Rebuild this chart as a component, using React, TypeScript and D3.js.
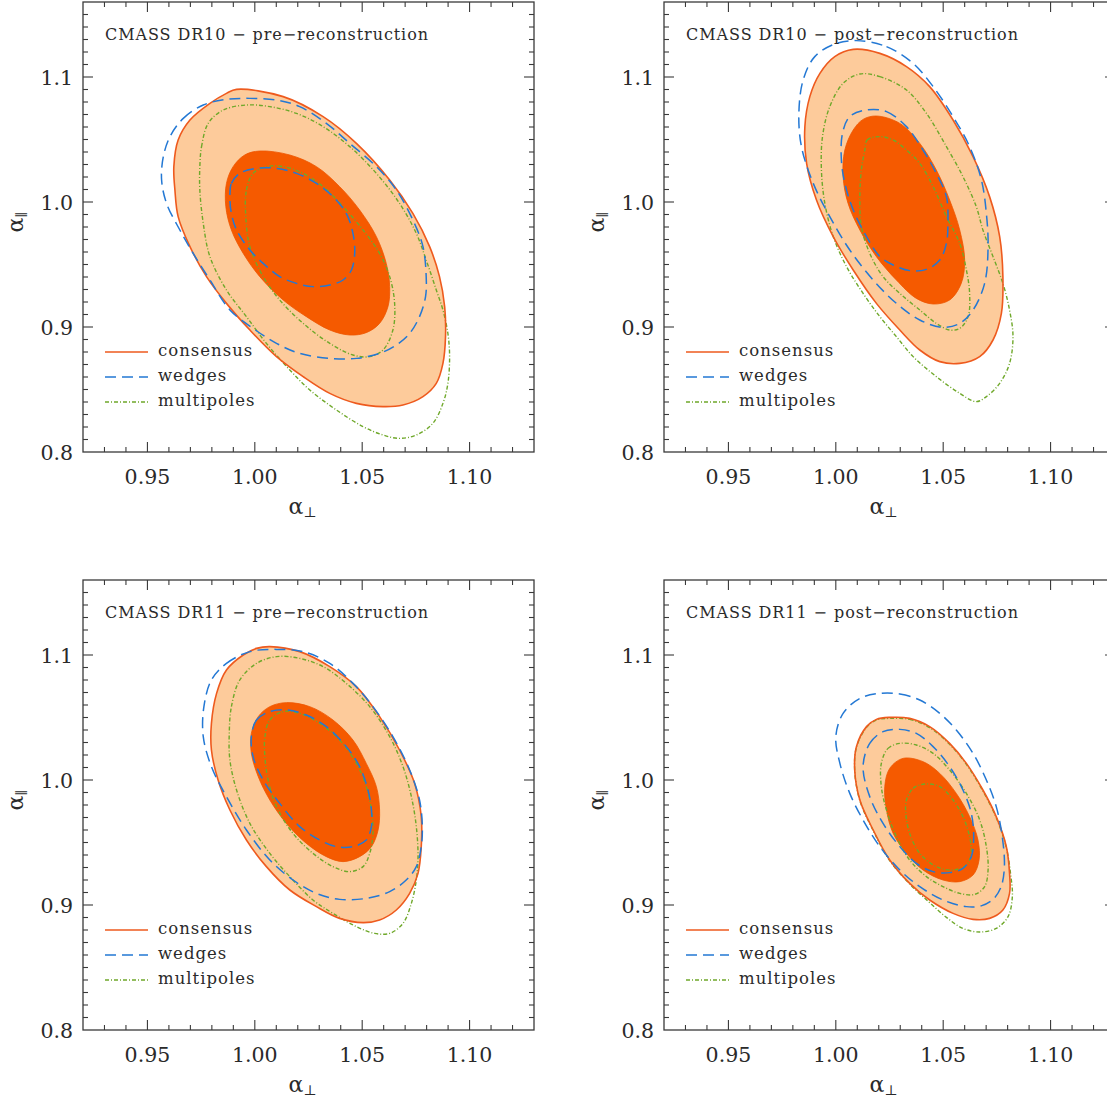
import React from "react";
import * as d3 from "d3";

type P = [number, number];

// ---------- data (alpha_perp, alpha_par) contour points ----------
const xTicks = [0.95, 1.0, 1.05, 1.1];
const yTicks = [0.8, 0.9, 1.0, 1.1];
const legendLabels = ["consensus", "wedges", "multipoles"];
const panelTitles = [
  "CMASS DR10 \u2212 pre\u2212reconstruction",
  "CMASS DR10 \u2212 post\u2212reconstruction",
  "CMASS DR11 \u2212 pre\u2212reconstruction",
  "CMASS DR11 \u2212 post\u2212reconstruction",
];

// DR10 pre
const dr10PreCons2: P[] = [[0.9915,1.0901],[1.0132,1.0843],[1.0318,1.0683],[1.0473,1.0469],[1.0628,1.0176],[1.0736,0.9909],[1.0814,0.9643],[1.0860,0.9403],[1.0884,0.9163],[1.0888,0.8923],[1.0876,0.8709],[1.0845,0.8549],[1.0783,0.8443],[1.0690,0.8376],[1.0597,0.8363],[1.0473,0.8389],[1.0349,0.8469],[1.0225,0.8603],[1.0101,0.8763],[0.9977,0.8976],[0.9868,0.9189],[0.9775,0.9403],[0.9698,0.9643],[0.9643,0.9883],[0.9628,1.0096],[0.9623,1.0283],[0.9643,1.0496],[0.9698,1.0656],[0.9791,1.0789],[0.9868,1.0869]];
const dr10PreCons1: P[] = [[1.0023,1.0408],[1.0163,1.0376],[1.0287,1.0283],[1.0395,1.0123],[1.0488,0.9936],[1.0566,0.9723],[1.0612,0.9509],[1.0628,0.9323],[1.0620,0.9163],[1.0581,0.9029],[1.0519,0.8955],[1.0442,0.8936],[1.0349,0.8976],[1.0240,0.9083],[1.0132,0.9216],[1.0023,0.9403],[0.9946,0.9589],[0.9891,0.9776],[0.9865,0.9963],[0.9868,1.0149],[0.9899,1.0283],[0.9953,1.0376]];
const dr10PreWedges2: P[] = [[0.9605,1.0523],[0.9667,1.0669],[0.9760,1.0776],[0.9868,1.0821],[0.9977,1.0829],[1.0101,1.0816],[1.0209,1.0763],[1.0333,1.0629],[1.0442,1.0469],[1.0566,1.0283],[1.0659,1.0096],[1.0736,0.9856],[1.0783,0.9643],[1.0798,0.9403],[1.0795,0.9243],[1.0767,0.9083],[1.0721,0.8949],[1.0659,0.8856],[1.0581,0.8789],[1.0473,0.8749],[1.0349,0.8749],[1.0209,0.8789],[1.0101,0.8869],[0.9992,0.8989],[0.9884,0.9136],[0.9791,0.9376],[0.9713,0.9589],[0.9651,0.9776],[0.9589,0.9989],[0.9566,1.0176],[0.9574,1.0363]];
const dr10PreWedges1: P[] = [[0.9884,1.0043],[0.9891,1.0149],[0.9930,1.0229],[1.0008,1.0269],[1.0101,1.0269],[1.0194,1.0229],[1.0287,1.0149],[1.0364,1.0043],[1.0426,0.9909],[1.0457,0.9749],[1.0465,0.9589],[1.0450,0.9456],[1.0411,0.9376],[1.0349,0.9336],[1.0271,0.9323],[1.0194,0.9349],[1.0116,0.9403],[1.0039,0.9509],[0.9977,0.9616],[0.9915,0.9776],[0.9891,0.9909]];
const dr10PreMulti2: P[] = [[0.9744,1.0283],[0.9752,1.0443],[0.9783,1.0629],[0.9853,1.0736],[0.9961,1.0776],[1.0070,1.0763],[1.0194,1.0709],[1.0318,1.0603],[1.0442,1.0443],[1.0566,1.0229],[1.0674,0.9989],[1.0752,0.9749],[1.0798,0.9536],[1.0845,0.9296],[1.0876,0.9136],[1.0899,0.8949],[1.0907,0.8763],[1.0899,0.8549],[1.0876,0.8389],[1.0829,0.8229],[1.0752,0.8136],[1.0674,0.8109],[1.0597,0.8136],[1.0504,0.8203],[1.0380,0.8336],[1.0256,0.8496],[1.0163,0.8656],[1.0054,0.8869],[0.9961,0.9083],[0.9868,0.9296],[0.9791,0.9563],[0.9760,0.9829],[0.9744,1.0096]];
const dr10PreMulti1: P[] = [[0.9958,0.9883],[0.9961,1.0096],[0.9992,1.0229],[1.0054,1.0283],[1.0132,1.0283],[1.0225,1.0229],[1.0318,1.0123],[1.0411,0.9963],[1.0504,0.9776],[1.0581,0.9589],[1.0628,0.9403],[1.0651,0.9189],[1.0643,0.8976],[1.0597,0.8816],[1.0535,0.8763],[1.0457,0.8776],[1.0349,0.8869],[1.0225,0.9029],[1.0116,0.9216],[1.0039,0.9403],[0.9977,0.9643]];

// DR10 post
const dr10PostCons2: P[] = [[1.0081,1.1221],[1.0205,1.1189],[1.0329,1.1083],[1.0437,1.0923],[1.0546,1.0656],[1.0639,1.0363],[1.0716,1.0043],[1.0763,0.9723],[1.0778,0.9403],[1.0771,0.9109],[1.0732,0.8896],[1.0670,0.8763],[1.0577,0.8709],[1.0484,0.8723],[1.0391,0.8816],[1.0298,0.8976],[1.0189,0.9189],[1.0081,0.9456],[0.9988,0.9723],[0.9910,1.0016],[0.9864,1.0309],[0.9856,1.0603],[0.9879,1.0843],[0.9926,1.1029],[0.9995,1.1163]];
const dr10PostCons1: P[] = [[1.0189,1.0688],[1.0298,1.0629],[1.0391,1.0469],[1.0468,1.0256],[1.0530,1.0016],[1.0577,0.9776],[1.0600,0.9536],[1.0584,0.9349],[1.0530,0.9216],[1.0453,0.9184],[1.0375,0.9229],[1.0282,0.9376],[1.0189,0.9563],[1.0112,0.9776],[1.0057,0.9989],[1.0034,1.0203],[1.0042,1.0416],[1.0081,1.0576],[1.0127,1.0661]];
const dr10PostWedges2: P[] = [[1.0096,1.1291],[1.0236,1.1243],[1.0360,1.1109],[1.0453,1.0923],[1.0546,1.0683],[1.0623,1.0443],[1.0678,1.0176],[1.0701,0.9909],[1.0709,0.9643],[1.0693,0.9349],[1.0639,0.9136],[1.0577,0.9029],[1.0499,0.8997],[1.0391,0.9056],[1.0282,0.9189],[1.0174,0.9376],[1.0065,0.9616],[0.9972,0.9883],[0.9895,1.0149],[0.9840,1.0443],[0.9828,1.0709],[0.9848,1.0976],[0.9902,1.1163],[0.9995,1.1264]];
const dr10PostWedges1: P[] = [[1.0143,1.0736],[1.0236,1.0723],[1.0329,1.0603],[1.0406,1.0416],[1.0468,1.0229],[1.0515,1.0043],[1.0522,0.9829],[1.0515,0.9669],[1.0484,0.9536],[1.0422,0.9461],[1.0344,0.9451],[1.0267,0.9496],[1.0205,0.9563],[1.0143,0.9723],[1.0081,0.9936],[1.0042,1.0149],[1.0026,1.0336],[1.0031,1.0549],[1.0065,1.0683]];
const dr10PostMulti2: P[] = [[1.0112,1.1024],[1.0205,1.1003],[1.0329,1.0896],[1.0422,1.0709],[1.0515,1.0443],[1.0592,1.0203],[1.0654,0.9963],[1.0685,0.9776],[1.0732,0.9563],[1.0778,0.9349],[1.0809,0.9136],[1.0825,0.8923],[1.0809,0.8709],[1.0763,0.8549],[1.0701,0.8443],[1.0654,0.8403],[1.0577,0.8469],[1.0468,0.8603],[1.0360,0.8763],[1.0282,0.8923],[1.0205,0.9083],[1.0127,0.9269],[1.0050,0.9483],[0.9988,0.9723],[0.9949,0.9989],[0.9933,1.0256],[0.9938,1.0523],[0.9972,1.0763],[1.0034,1.0949]];
const dr10PostMulti1: P[] = [[1.0135,1.0416],[1.0146,1.0496],[1.0205,1.0523],[1.0267,1.0496],[1.0329,1.0416],[1.0391,1.0309],[1.0453,1.0123],[1.0515,0.9883],[1.0577,0.9669],[1.0608,0.9456],[1.0623,0.9269],[1.0616,0.9083],[1.0577,0.8989],[1.0530,0.8976],[1.0468,0.9029],[1.0391,0.9136],[1.0298,0.9269],[1.0220,0.9403],[1.0158,0.9589],[1.0119,0.9803],[1.0112,1.0043],[1.0119,1.0256]];

// DR11 pre
const dr11PreCons2: P[] = [[1.0070,1.1067],[1.0209,1.1027],[1.0349,1.0907],[1.0473,1.0747],[1.0581,1.0507],[1.0674,1.0240],[1.0744,0.9973],[1.0775,0.9707],[1.0775,0.9467],[1.0760,0.9253],[1.0721,0.9093],[1.0659,0.8960],[1.0581,0.8880],[1.0504,0.8859],[1.0395,0.8893],[1.0287,0.8987],[1.0163,0.9120],[1.0054,0.9307],[0.9961,0.9520],[0.9884,0.9760],[0.9829,1.0000],[0.9798,1.0240],[0.9798,1.0453],[0.9822,1.0693],[0.9868,1.0880],[0.9946,1.1000],[1.0008,1.1053]];
const dr11PreCons1: P[] = [[1.0147,1.0619],[1.0256,1.0587],[1.0364,1.0480],[1.0457,1.0320],[1.0519,1.0133],[1.0566,0.9947],[1.0581,0.9760],[1.0574,0.9600],[1.0543,0.9467],[1.0488,0.9387],[1.0411,0.9347],[1.0333,0.9387],[1.0240,0.9493],[1.0147,0.9653],[1.0070,0.9840],[1.0016,1.0027],[0.9984,1.0213],[0.9984,1.0373],[1.0016,1.0507],[1.0070,1.0587]];
const dr11PreWedges2: P[] = [[0.9798,1.0800],[0.9868,1.0933],[0.9977,1.1027],[1.0101,1.1045],[1.0225,1.1027],[1.0349,1.0933],[1.0457,1.0773],[1.0550,1.0587],[1.0643,1.0347],[1.0721,1.0080],[1.0767,0.9840],[1.0780,0.9627],[1.0775,0.9467],[1.0752,0.9307],[1.0705,0.9200],[1.0628,0.9107],[1.0519,0.9053],[1.0395,0.9045],[1.0287,0.9093],[1.0178,0.9200],[1.0070,0.9360],[0.9961,0.9600],[0.9868,0.9867],[0.9798,1.0107],[0.9760,1.0347],[0.9763,1.0587]];
const dr11PreWedges1: P[] = [[0.9984,1.0347],[1.0008,1.0480],[1.0070,1.0547],[1.0147,1.0560],[1.0240,1.0520],[1.0333,1.0427],[1.0426,1.0267],[1.0488,1.0107],[1.0527,0.9920],[1.0543,0.9760],[1.0543,0.9627],[1.0519,0.9520],[1.0457,0.9467],[1.0380,0.9467],[1.0302,0.9520],[1.0209,0.9627],[1.0116,0.9813],[1.0039,1.0000],[0.9992,1.0187]];
const dr11PreMulti2: P[] = [[0.9881,1.0373],[0.9891,1.0587],[0.9930,1.0800],[1.0008,1.0933],[1.0101,1.0987],[1.0209,1.0973],[1.0318,1.0907],[1.0426,1.0773],[1.0535,1.0587],[1.0628,1.0347],[1.0690,1.0107],[1.0729,0.9867],[1.0752,0.9627],[1.0760,0.9387],[1.0752,0.9200],[1.0729,0.9013],[1.0690,0.8853],[1.0628,0.8773],[1.0558,0.8773],[1.0473,0.8827],[1.0364,0.8933],[1.0271,0.9040],[1.0163,0.9227],[1.0070,0.9413],[0.9977,0.9653],[0.9915,0.9920],[0.9884,1.0160]];
const dr11PreMulti1: P[] = [[1.0047,1.0347],[1.0070,1.0480],[1.0132,1.0547],[1.0209,1.0533],[1.0302,1.0453],[1.0395,1.0320],[1.0473,1.0133],[1.0519,0.9947],[1.0543,0.9760],[1.0550,0.9573],[1.0535,0.9413],[1.0504,0.9307],[1.0442,0.9267],[1.0364,0.9307],[1.0271,0.9413],[1.0178,0.9573],[1.0101,0.9787],[1.0062,1.0000],[1.0047,1.0187]];

// DR11 post
const dr11PostCons2: P[] = [[1.0251,1.0501],[1.0344,1.0493],[1.0437,1.0427],[1.0530,1.0293],[1.0608,1.0133],[1.0685,0.9920],[1.0747,0.9707],[1.0794,0.9467],[1.0809,0.9253],[1.0809,0.9093],[1.0778,0.8960],[1.0716,0.8893],[1.0639,0.8885],[1.0546,0.8933],[1.0437,0.9040],[1.0344,0.9173],[1.0251,0.9360],[1.0174,0.9600],[1.0112,0.9840],[1.0088,1.0080],[1.0096,1.0267],[1.0143,1.0427],[1.0189,1.0485]];
const dr11PostCons1: P[] = [[1.0313,1.0173],[1.0406,1.0147],[1.0484,1.0053],[1.0561,0.9893],[1.0623,0.9707],[1.0662,0.9520],[1.0667,0.9360],[1.0639,0.9240],[1.0577,0.9187],[1.0499,0.9200],[1.0406,0.9280],[1.0329,0.9413],[1.0267,0.9573],[1.0236,0.9760],[1.0228,0.9947],[1.0251,1.0093]];
const dr11PostWedges2: P[] = [[1.0205,1.0693],[1.0298,1.0688],[1.0391,1.0640],[1.0484,1.0533],[1.0561,1.0400],[1.0639,1.0213],[1.0701,1.0000],[1.0747,0.9787],[1.0775,0.9547],[1.0785,0.9307],[1.0770,0.9147],[1.0735,0.9050],[1.0680,0.8995],[1.0608,0.8987],[1.0499,0.9040],[1.0391,0.9147],[1.0298,0.9280],[1.0205,0.9467],[1.0127,0.9680],[1.0065,0.9893],[1.0019,1.0133],[1.0000,1.0347],[1.0034,1.0533],[1.0112,1.0653]];
const dr11PostWedges1: P[] = [[1.0127,1.0107],[1.0158,1.0293],[1.0220,1.0387],[1.0298,1.0405],[1.0375,1.0373],[1.0453,1.0267],[1.0530,1.0107],[1.0592,0.9920],[1.0631,0.9733],[1.0642,0.9547],[1.0631,0.9387],[1.0592,0.9293],[1.0530,0.9259],[1.0453,0.9267],[1.0375,0.9333],[1.0298,0.9467],[1.0220,0.9653],[1.0158,0.9867]];
const dr11PostMulti3: P[] = [[1.0251,1.0493],[1.0344,1.0485],[1.0437,1.0419],[1.0530,1.0285],[1.0608,1.0125],[1.0685,0.9912],[1.0747,0.9699],[1.0794,0.9459],[1.0814,0.9245],[1.0822,0.9067],[1.0802,0.8907],[1.0747,0.8813],[1.0670,0.8784],[1.0592,0.8813],[1.0515,0.8901],[1.0437,0.9019],[1.0344,0.9168],[1.0251,0.9355],[1.0174,0.9595],[1.0112,0.9835],[1.0088,1.0075],[1.0096,1.0261],[1.0143,1.0421],[1.0189,1.0480]];
const dr11PostMulti2: P[] = [[1.0212,1.0133],[1.0243,1.0253],[1.0298,1.0293],[1.0375,1.0280],[1.0453,1.0213],[1.0530,1.0080],[1.0608,0.9893],[1.0670,0.9680],[1.0701,0.9467],[1.0709,0.9280],[1.0693,0.9147],[1.0647,0.9085],[1.0577,0.9093],[1.0499,0.9147],[1.0422,0.9227],[1.0344,0.9360],[1.0282,0.9547],[1.0236,0.9760],[1.0212,0.9947]];
const dr11PostMulti1: P[] = [[1.0329,0.9840],[1.0360,0.9933],[1.0414,0.9968],[1.0484,0.9947],[1.0546,0.9840],[1.0592,0.9707],[1.0623,0.9547],[1.0631,0.9413],[1.0608,0.9320],[1.0546,0.9280],[1.0468,0.9307],[1.0391,0.9413],[1.0344,0.9573],[1.0326,0.9733]];

// ---------- layout & style ----------
const W = 1107;
const H = 1101;
const PW = 451;
const PH = 450;
const xDomain: [number, number] = [0.92, 1.13];
const yDomain: [number, number] = [0.8, 1.16];

const C_DARK = "#F55A00";
const C_LIGHT = "#FDCB9B";
const C_LINE = "#EE5A1E";
const C_BLUE = "#2378D4";
const C_GREEN = "#6FA82A";
const AXIS = "#3a3a3a";
const TEXT = "#2a2a2a";
const FONT = "'DejaVu Serif', serif";

type Panel = {
  title: string;
  titleLen: number;
  left: number;
  top: number;
  cons2: P[];
  cons1: P[];
  wedges: P[][];
  multi: P[][];
};

const panels: Panel[] = [
  { title: panelTitles[0], titleLen: 323, left: 83, top: 2, cons2: dr10PreCons2, cons1: dr10PreCons1, wedges: [dr10PreWedges2, dr10PreWedges1], multi: [dr10PreMulti2, dr10PreMulti1] },
  { title: panelTitles[1], titleLen: 332, left: 664, top: 2, cons2: dr10PostCons2, cons1: dr10PostCons1, wedges: [dr10PostWedges2, dr10PostWedges1], multi: [dr10PostMulti2, dr10PostMulti1] },
  { title: panelTitles[2], titleLen: 323, left: 83, top: 580, cons2: dr11PreCons2, cons1: dr11PreCons1, wedges: [dr11PreWedges2, dr11PreWedges1], multi: [dr11PreMulti2, dr11PreMulti1] },
  { title: panelTitles[3], titleLen: 332, left: 664, top: 580, cons2: dr11PostCons2, cons1: dr11PostCons1, wedges: [dr11PostWedges2, dr11PostWedges1], multi: [dr11PostMulti3, dr11PostMulti2, dr11PostMulti1] },
];

const xMinor = d3.range(93, 113).map((v) => v / 100);
const yMinor = d3.range(81, 116).map((v) => v / 100);

function PanelView({ p }: { p: Panel }) {
  const xs = d3.scaleLinear().domain(xDomain).range([p.left, p.left + PW]);
  const ys = d3.scaleLinear().domain(yDomain).range([p.top + PH, p.top]);
  const line = d3
    .line<P>()
    .x((d) => xs(d[0]))
    .y((d) => ys(d[1]))
    .curve(d3.curveCatmullRomClosed.alpha(0.5));
  const L = p.left;
  const R = p.left + PW;
  const T = p.top;
  const B = p.top + PH;
  const isMajorX = (v: number) => xTicks.some((t) => Math.abs(t - v) < 1e-6);
  const isMajorY = (v: number) => yTicks.some((t) => Math.abs(t - v) < 1e-6);
  const legendY = [T + 350, T + 375, T + 400];
  const legendStyles = [
    { stroke: C_LINE, dash: undefined, w: 1.6 },
    { stroke: C_BLUE, dash: "11,6", w: 1.5 },
    { stroke: C_GREEN, dash: "4,2,1,2", w: 1.4 },
  ];
  const cons2Path = line(p.cons2) || "";
  return (
    <g>
      <path d={cons2Path} fill={C_LIGHT} stroke="none" />
      <path d={line(p.cons1) || ""} fill={C_DARK} stroke="#EE5500" strokeWidth={0.8} />
      {p.multi.map((c, i) => (
        <path key={"m" + i} d={line(c) || ""} fill="none" stroke={C_GREEN} strokeWidth={1.4} strokeDasharray="4,2,1,2" />
      ))}
      <path d={cons2Path} fill="none" stroke={C_LINE} strokeWidth={1.6} />
      {p.wedges.map((c, i) => (
        <path key={"w" + i} d={line(c) || ""} fill="none" stroke={C_BLUE} strokeWidth={1.5} strokeDasharray="11,6" />
      ))}
      {/* frame */}
      <rect x={L} y={T} width={PW} height={PH} fill="none" stroke={AXIS} strokeWidth={1.3} />
      {/* ticks */}
      {xMinor.map((v) => {
        const len = isMajorX(v) ? 10 : 5;
        const x = xs(v);
        return (
          <g key={"xt" + v}>
            <line x1={x} x2={x} y1={B} y2={B - len} stroke={AXIS} strokeWidth={1.1} />
            <line x1={x} x2={x} y1={T} y2={T + len} stroke={AXIS} strokeWidth={1.1} />
          </g>
        );
      })}
      {yMinor.map((v) => {
        const len = isMajorY(v) ? 10 : 5;
        const y = ys(v);
        return (
          <g key={"yt" + v}>
            <line x1={L} x2={L + len} y1={y} y2={y} stroke={AXIS} strokeWidth={1.1} />
            <line x1={R} x2={R - len} y1={y} y2={y} stroke={AXIS} strokeWidth={1.1} />
          </g>
        );
      })}
      {/* tick labels */}
      {xTicks.map((v) => (
        <text key={"xl" + v} x={xs(v)} y={B + 32} textAnchor="middle" fontFamily={FONT} fontSize={20.5} fill={TEXT}>
          {d3.format(".2f")(v)}
        </text>
      ))}
      {yTicks.map((v) => (
        <text key={"yl" + v} x={L - 10} y={ys(v) + 8} textAnchor="end" fontFamily={FONT} fontSize={20.5} fill={TEXT}>
          {d3.format(".1f")(v)}
        </text>
      ))}
      {/* axis labels */}
      <text x={L + PW / 2 - 6} y={B + 62} textAnchor="middle" fontFamily={FONT} fontSize={22} fill={TEXT}>
        {"\u03B1"}
        <tspan fontSize={14} dy={3}>{"\u22A5"}</tspan>
      </text>
      <text
        transform={`translate(${L - 60},${T + 220}) rotate(-90)`}
        textAnchor="middle"
        fontFamily={FONT}
        fontSize={22}
        fill={TEXT}
      >
        {"\u03B1"}
        <tspan fontSize={13} dy={3}>{"\u2225"}</tspan>
      </text>
      {/* title */}
      <text x={L + 22} y={T + 38} fontFamily={FONT} fontSize={16} fill={TEXT} textLength={p.titleLen} lengthAdjust="spacing">
        {p.title}
      </text>
      {/* legend */}
      {legendLabels.map((lab, i) => (
        <g key={"lg" + i}>
          <line
            x1={L + 22}
            x2={L + 65}
            y1={legendY[i]}
            y2={legendY[i]}
            stroke={legendStyles[i].stroke}
            strokeWidth={legendStyles[i].w}
            strokeDasharray={legendStyles[i].dash}
          />
          <text x={L + 75} y={legendY[i] + 4} fontFamily={FONT} fontSize={16.5} letterSpacing={1} fill={TEXT}>
            {lab}
          </text>
        </g>
      ))}
    </g>
  );
}

export default function App() {
  return (
    <svg
      width={W}
      height={H}
      viewBox={`0 0 ${W} ${H}`}
      style={{ position: "absolute", left: 0, top: 0, background: "#fff", overflow: "hidden" }}
    >
      <rect x={0} y={0} width={W} height={H} fill="#fff" />
      {panels.map((p, i) => (
        <PanelView key={i} p={p} />
      ))}
    </svg>
  );
}
